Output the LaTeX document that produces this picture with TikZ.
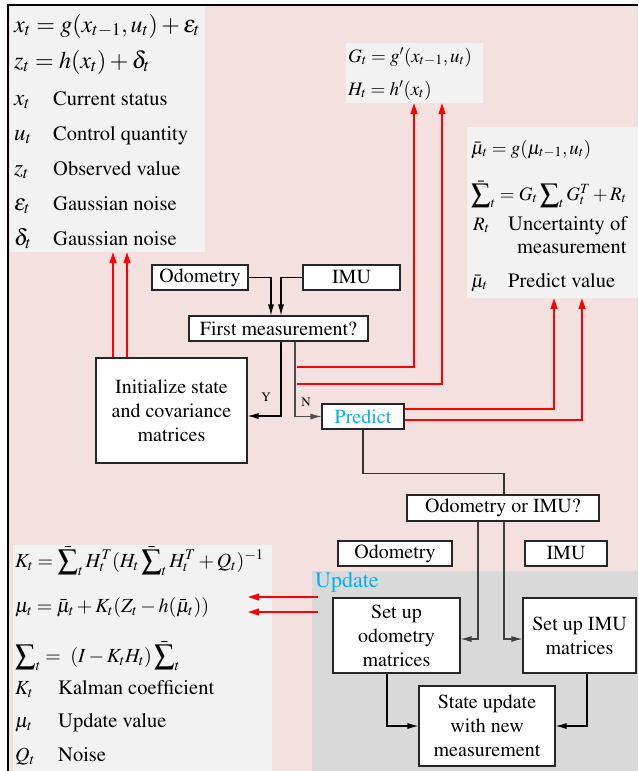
\documentclass[tikz,border=0pt]{standalone}
\usepackage[T1]{fontenc}
\usepackage{mathptmx}
\usetikzlibrary{arrows.meta,positioning}

\definecolor{bgpink}{RGB}{244,224,223}
\definecolor{boxgray}{RGB}{242,242,242}
\definecolor{updgray}{RGB}{217,217,217}
\definecolor{skyblue}{RGB}{0,176,240}

\tikzstyle{block}=[draw=black!85,fill=white,rectangle,line width=1.1pt,inner sep=0pt,align=center,font=\fontsize{20}{24}\selectfont]
\tikzstyle{formbox}=[fill=boxgray,rectangle,inner sep=0pt]
\tikzstyle{eq}=[anchor=base west,inner sep=0pt]
\tikzstyle{flow}=[-{Latex[length=11pt,width=6pt]},line width=1.1pt]
\tikzstyle{redflow}=[-{Triangle[length=11pt,width=7pt]},red,line width=1.1pt]

\newcommand{\bsum}{\mathop{\bar{\displaystyle\sum}}\nolimits}
\newcommand{\psum}{\mathop{\displaystyle\sum}\nolimits}

\begin{document}
\begin{tikzpicture}[x=1pt,y=-1pt]
	\useasboundingbox (0,0) rectangle (638,771);
	\fill[bgpink] (8,5) rectangle (638,771);
	\draw[line width=1.2pt] (8,771) -- (8,5) -- (638,5);
	\fill[updgray] (312,571) rectangle (638,771);

	% formula panels
	\node (model)[formbox,minimum width=195pt,minimum height=246pt] at (107.5,129) {};
	\node (jac)[formbox,minimum width=137pt,minimum height=60pt] at (414.5,73) {};
	\node (pred)[formbox,minimum width=171pt,minimum height=171pt] at (552.5,212.5) {};
	\node (upd)[formbox,minimum width=259pt,minimum height=226pt] at (142.5,658) {};

	% system model
	\node (motion)[eq,font=\fontsize{24}{28}\selectfont] at (14,32) {$x_t=g(x_{t-1},u_t)+\varepsilon_t$};
	\node (obs)[eq,font=\fontsize{24}{28}\selectfont] at (14,68) {$z_t=h(x_t)+\delta_t$};
	\foreach \sym/\txt [count=\i] in {x_t/Current status, u_t/Control quantity, z_t/Observed value, \varepsilon_t/Gaussian noise, \delta_t/Gaussian noise}{
		\node (sym\i)[eq,font=\fontsize{23}{26}\selectfont] at (14,{70+35*\i}) {$\sym$};
		\node (def\i)[eq,font=\fontsize{20.5}{24}\selectfont] at (53,{70+35*\i}) {\txt};
	}

	% jacobians
	\node (gjac)[eq,font=\fontsize{19}{22}\selectfont] at (348,62) {$G_t=g'(x_{t-1},u_t)$};
	\node (hjac)[eq,font=\fontsize{19}{22}\selectfont] at (348,95) {$H_t=h'(x_t)$};

	% prediction
	\begin{scope}[font=\fontsize{19}{22}\selectfont]
		\node (mupred)[eq] at (471,154) {$\bar{\mu}_t=g(\mu_{t-1},u_t)$};
		\node (sigpred)[eq] at (471,200) {$\bsum_t=G_t\psum_tG_t^T+R_t$};
		\node (rsym)[eq] at (473,230) {$R_t$};
		\node (rdef)[eq,font=\fontsize{20.5}{24}\selectfont] at (508,230) {Uncertainty of};
		\node (rdef2)[eq,font=\fontsize{20.5}{24}\selectfont] at (517,253) {measurement};
		\node (musym)[eq] at (471,287) {$\bar{\mu}_t$};
		\node (mudef)[eq,font=\fontsize{20.5}{24}\selectfont] at (508,287) {Predict value};
	\end{scope}

	% update
	\begin{scope}[font=\fontsize{20}{22}\selectfont]
		\node (gain)[eq] at (15,567) {$K_t=\bsum_tH_t^T(H_t\bsum_tH_t^T+Q_t)^{-1}$};
		\node (muupd)[eq] at (15,612) {$\mu_t=\bar{\mu}_t+K_t(Z_t-h(\bar{\mu}_t))$};
		\node (sigupd)[eq] at (15,662) {$\psum_t=\ (I-K_tH_t)\bsum_t$};
		\node (ksym)[eq] at (15,694) {$K_t$};
		\node (kdef)[eq,font=\fontsize{20.5}{24}\selectfont] at (58,694) {Kalman coefficient};
		\node (usym)[eq] at (15,727) {$\mu_t$};
		\node (udef)[eq,font=\fontsize{20.5}{24}\selectfont] at (58,727) {Update value};
		\node (qsym)[eq] at (15,761) {$Q_t$};
		\node (qdef)[eq,font=\fontsize{20.5}{24}\selectfont] at (58,761) {Noise};
	\end{scope}
	\node (updlabel)[anchor=west,inner sep=0pt,text=skyblue,font=\fontsize{22}{24}\selectfont] at (315,582) {Update};

	% flow chart
	\node (odoA)[block,minimum width=96pt,minimum height=25pt] at (200,277.5) {Odometry};
	\node (imuA)[block,minimum width=97pt,minimum height=25pt] at (351.5,277.5) {IMU};
	\node (first)[block,minimum width=179pt,minimum height=25pt] at (278.5,328.5) {First measurement?};
	\node (init)[block,minimum width=151pt,minimum height=105pt] at (171.5,410.5) {Initialize state\\and covariance\\matrices};
	\node (predict)[block,minimum width=82pt,minimum height=25pt,text=skyblue] at (363,416.5) {Predict};
	\node (choice)[block,minimum width=192pt,minimum height=26pt] at (503,508) {Odometry or IMU?};
	\node (odoB)[block,minimum width=114pt,minimum height=25pt] at (395,553.5) {Odometry};
	\node (imuB)[block,minimum width=82pt,minimum height=25pt] at (566,553.5) {IMU};
	\node (setodo)[block,minimum width=127pt,minimum height=75pt] at (396.5,635.5) {Set up\\odometry\\matrices};
	\node (setimu)[block,minimum width=113pt,minimum height=75pt] at (579.5,635.5) {Set up IMU\\matrices};
	\node (state)[block,minimum width=136pt,minimum height=80pt] at (487,726) {State update\\with new\\measurement};

	\node (ylab)[inner sep=0pt,font=\fontsize{13}{14}\selectfont] at (266,397) {Y};
	\node (nlab)[inner sep=0pt,font=\fontsize{13}{14}\selectfont] at (306,402) {N};

	\draw[flow] (odoA.east) -| ([xshift=-7.5pt]first.north);
	\draw[flow] (imuA.west) -| ([xshift=2.5pt]first.north);
	\draw[flow] ([xshift=2.5pt]first.south) |- ([yshift=-5.5pt]init.east);
	\draw[flow,black!70] ([xshift=16.5pt]first.south) |- (predict.west);
	\draw[line width=1.1pt,black!80] (predict.south) -- ++(0,43.5) -| ([xshift=1pt]choice.north);
	\draw[flow,black!75] ([xshift=-25pt]choice.south) |- ([yshift=-3.5pt]setodo.east);
	\draw[flow,black!75] ([xshift=1pt]choice.south) |- ([yshift=-3.5pt]setimu.west);
	\draw[flow] ([xshift=-9.5pt]setodo.south) |- (state.west);
	\draw[flow] ([xshift=7.5pt]setimu.south) |- (state.east);

	% red links to the formulas
	\coordinate (tapG) at (297,367);
	\coordinate (tapH) at (297,384);
	\coordinate (updA) at (318,597);
	\coordinate (updB) at (318,612);
	\coordinate (gainA) at (248,597);
	\coordinate (gainB) at (248,612);
	\draw[redflow] ([xshift=-58.5pt]init.north) -- ([xshift=-58.5pt]init.north |- model.south);
	\draw[redflow] ([xshift=-44.5pt]init.north) -- ([xshift=-44.5pt]init.north |- model.south);
	\draw[redflow] (tapG) -| ([xshift=-0.5pt]jac.south);
	\draw[redflow] (tapH) -| ([xshift=27.5pt]jac.south);
	\draw[redflow] ([yshift=7.5pt]predict.east) -| ([xshift=1.5pt]pred.south);
	\draw[redflow] ([yshift=-3.5pt]predict.east) -| ([xshift=29.5pt]pred.south);
	\draw[redflow] (updA) -- (gainA);
	\draw[redflow] (updB) -- (gainB);
\end{tikzpicture}
\end{document}
